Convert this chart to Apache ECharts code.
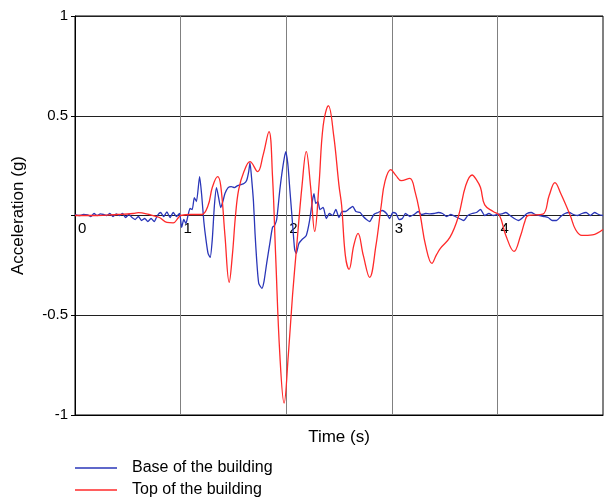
<!DOCTYPE html>
<html>
<head>
<meta charset="utf-8">
<script src="https://cdn.jsdelivr.net/npm/echarts@6/dist/echarts.min.js"></script>
<style>
  html, body { margin: 0; padding: 0; background: #fff; }
  #chart { width: 606px; height: 501px; }
</style>
</head>
<body>
<div id="chart"></div>
<script>
// time (s) / acceleration (g)
var baseTime = [0.00,0.04,0.08,0.12,0.15,0.18,0.21,0.24,0.27,0.30,0.33,0.36,0.39,0.42,0.45,0.48,0.51,0.54,0.57,0.60,
  0.63,0.66,0.69,0.72,0.75,0.78,0.81,0.84,0.87,0.90,0.93,0.96,0.99,1.01,1.03,1.05,1.07,1.09,1.11,1.13,
  1.15,1.18,1.20,1.22,1.24,1.26,1.28,1.30,1.32,1.34,1.36,1.38,1.40,1.42,1.45,1.48,1.51,1.54,1.57,1.60,
  1.625,1.645,1.657,1.675,1.69,1.705,1.72,1.74,1.77,1.79,1.815,1.845,1.87,1.89,1.91,1.94,1.97,1.995,2.015,2.036,
  2.06,2.08,2.095,2.12,2.15,2.19,2.22,2.25,2.263,2.28,2.30,2.32,2.35,2.38,2.41,2.44,2.47,2.50,2.53,2.56,
  2.60,2.63,2.66,2.70,2.73,2.76,2.79,2.83,2.87,2.91,2.95,2.98,3.01,3.04,3.07,3.10,3.13,3.17,3.21,3.25,
  3.28,3.32,3.36,3.40,3.44,3.48,3.52,3.56,3.60,3.64,3.68,3.72,3.76,3.80,3.84,3.88,3.92,3.96,4.00,4.04,
  4.08,4.12,4.16,4.20,4.24,4.28,4.32,4.36,4.40,4.44,4.48,4.52,4.56,4.60,4.64,4.68,4.72,4.76,4.80,4.84,
  4.88,4.92,4.96,5.00];
var baseAcc = [0.005,0.0,0.005,0.003,-0.005,0.01,0.0,0.008,0.005,0.0,0.01,-0.005,0.008,0.0,0.01,-0.01,0.005,-0.01,-0.02,-0.005,
  -0.025,-0.015,-0.03,-0.015,-0.03,0.0,0.015,-0.005,0.018,-0.01,0.015,-0.005,0.01,-0.06,-0.02,-0.04,0.0,0.035,0.03,0.09,
  0.07,0.195,0.1,-0.03,-0.12,-0.19,-0.21,-0.12,0.05,0.14,0.09,0.04,0.07,0.11,0.14,0.145,0.14,0.15,0.155,0.16,
  0.175,0.22,0.265,0.17,0.07,-0.09,-0.22,-0.34,-0.365,-0.33,-0.24,-0.14,-0.06,-0.05,-0.02,0.13,0.25,0.32,0.26,0.12,
  -0.04,-0.17,-0.19,-0.14,-0.12,-0.1,-0.03,0.08,0.11,0.06,0.07,0.03,0.04,-0.015,0.01,0.0,0.03,-0.01,0.02,0.02,
  0.035,0.045,0.02,0.015,-0.005,-0.02,-0.03,0.005,0.015,0.025,0.01,-0.015,0.015,0.01,-0.02,-0.015,0.01,-0.005,0.005,0.02,
  0.005,0.01,0.008,0.01,0.015,0.01,-0.005,0.005,-0.005,-0.015,-0.025,0.0,0.01,0.015,0.03,0.0,0.01,0.0,0.005,0.008,
  0.015,0.0,-0.015,-0.025,-0.01,0.01,0.015,0.005,0.0,-0.005,-0.01,-0.025,-0.025,-0.005,0.01,0.015,0.005,0.0,0.01,0.015,
  0.0,0.015,0.005,0.0];

var topTime = [0,0.2,0.4,0.55,0.6,0.7,0.8,0.87,0.93,0.98,1.0,1.1,1.2,1.26,1.3,1.35,1.38,1.42,1.46,1.49,
  1.52,1.55,1.6,1.657,1.73,1.78,1.837,1.87,1.9,1.94,1.98,2.02,2.06,2.10,2.15,2.19,2.23,2.27,2.31,2.35,
  2.40,2.45,2.5,2.525,2.56,2.595,2.64,2.68,2.73,2.79,2.85,2.9,2.935,2.99,3.04,3.09,3.17,3.22,3.27,3.32,
  3.38,3.42,3.46,3.55,3.63,3.7,3.76,3.8,3.84,3.88,3.96,4.02,4.08,4.157,4.22,4.26,4.29,4.43,4.49,4.545,
  4.6,4.69,4.74,4.8,4.9,5.0];
var topAcc = [0,0,0.005,0.01,0.014,0.005,-0.01,-0.035,-0.037,-0.01,0,0.005,0.005,0.05,0.14,0.195,0.15,-0.1,-0.335,-0.2,
  0.0,0.13,0.22,0.27,0.22,0.3,0.42,0.2,-0.2,-0.7,-0.94,-0.7,-0.4,-0.15,0.15,0.32,0.15,-0.08,0.15,0.45,
  0.55,0.4,0.15,0.05,-0.2,-0.27,-0.15,-0.09,-0.2,-0.31,-0.15,0.05,0.17,0.23,0.2,0.175,0.186,0.12,0,-0.15,
  -0.24,-0.2,-0.165,-0.11,-0.006,0.15,0.203,0.18,0.14,0.053,0.02,0.0,-0.1,-0.18,-0.1,-0.03,0,0.007,0.1,0.165,
  0.11,0,-0.07,-0.1,-0.097,-0.07];

var yTicks = {'1': '1', '0.5': '0.5', '-0.5': '-0.5', '-1': '-1'};

function pairs(xs, ys) {
    var out = [];
    for (var i = 0; i < xs.length; i++) out.push([xs[i], ys[i]]);
    return out;
}

var chart = echarts.init(document.getElementById('chart'));

var option = {
    animation: false,
    textStyle: { fontFamily: 'Liberation Sans, Arial, sans-serif', color: '#000' },
    grid: {
        left: 75, right: 3, top: 16, bottom: 86,
        outerBoundsMode: 'none', containLabel: false,
        show: true, borderColor: '#000', borderWidth: 1, backgroundColor: 'transparent'
    },
    legend: {
        left: 75, top: 460, orient: 'vertical', padding: 0,
        width: 300, height: 45,
        icon: 'rect', itemWidth: 42, itemHeight: 1.5, itemGap: 6,
        textStyle: { fontSize: 16, color: '#000', padding: [0, 0, 0, 10] },
        data: ['Base of the building', 'Top of the building']
    },
    xAxis: {
        type: 'value', min: 0, max: 5, interval: 1,
        name: 'Time (s)', nameLocation: 'middle', nameGap: 14,
        nameTextStyle: { fontSize: 17, color: '#000', verticalAlign: 'top' },
        axisLine: { onZero: false, lineStyle: { color: '#000', width: 1 } },
        axisTick: { show: false },
        // tick labels sit just under the zero line, as in the source figure
        axisLabel: {
            fontSize: 15, color: '#000', align: 'left', margin: -194, padding: [0, 0, 0, 3],
            showMaxLabel: true, hideOverlap: false
        },
        splitLine: { show: true, lineStyle: { color: '#808080', width: 1 } }
    },
    yAxis: {
        type: 'value', min: -1, max: 1, interval: 0.5,
        name: 'Acceleration (g)', nameLocation: 'middle', nameGap: 48, nameRotate: 90,
        nameTextStyle: { fontSize: 17, color: '#000' },
        axisLine: { show: true, onZero: false, lineStyle: { color: '#000' } },
        axisTick: { show: true, length: 4, lineStyle: { color: '#000' } },
        axisLabel: {
            fontSize: 15, color: '#000', margin: 7,
            formatter: function (v) { return yTicks[String(v)] || ''; }
        },
        splitLine: { show: true, lineStyle: { color: '#202020', width: 1 } }
    },
    series: [
        {
            name: 'Base of the building',
            type: 'line',
            data: pairs(baseTime, baseAcc),
            symbol: 'none',
            smooth: 0.2,
            lineStyle: { color: '#2a36b8', width: 1.3 },
            itemStyle: { color: '#2a36b8' }
        },
        {
            name: 'Top of the building',
            type: 'line',
            data: pairs(topTime, topAcc),
            symbol: 'none',
            smooth: 0.4,
            lineStyle: { color: '#ff2a2a', width: 1.3 },
            itemStyle: { color: '#ff2a2a' }
        }
    ]
};

chart.setOption(option);
</script>
</body>
</html>
